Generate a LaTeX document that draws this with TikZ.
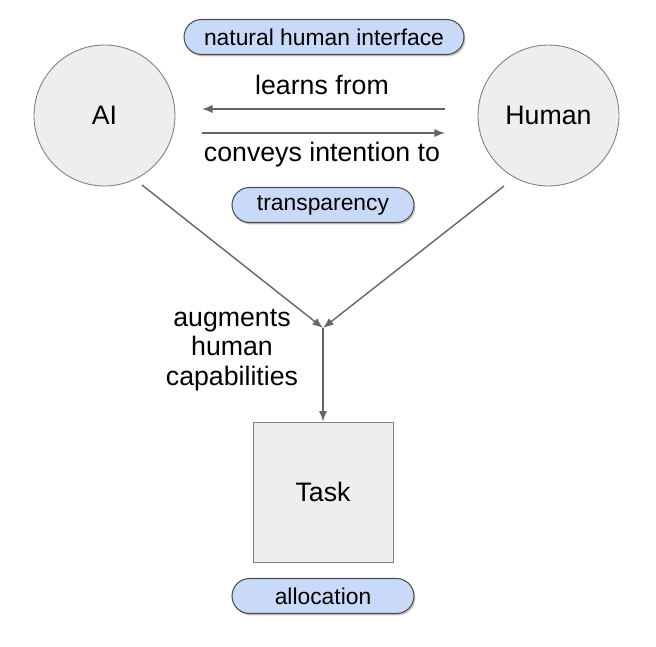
\documentclass[tikz,border=0pt]{standalone}
\usepackage{fontspec}
\setmainfont{Liberation Sans}
\usetikzlibrary{shadows,arrows.meta}
\definecolor{pillblue}{HTML}{C9DAF8}
\definecolor{boxgray}{HTML}{EEEEEE}
\definecolor{edgegray}{HTML}{808080}
\definecolor{arrowgray}{HTML}{666666}
\begin{document}
\begin{tikzpicture}[x=0.02cm, y=-0.02cm, font=\fontsize{15.2}{17}\selectfont,
		agent/.style={circle, draw=edgegray, fill=boxgray, line width=0.5pt, minimum size=2.82cm, inner sep=0pt},
		pill/.style={draw=black!70, fill=pillblue, line width=0.6pt, rounded corners=0.35cm, minimum height=0.7cm, inner sep=0pt, font=\fontsize{13}{15}\selectfont, drop shadow={shadow xshift=0.8pt, shadow yshift=-1.1pt, opacity=0.45}},
		link/.style={draw=arrowgray, line width=0.8pt, -{Latex[length=6pt, width=4.6pt]}}]
		\useasboundingbox (0,0) rectangle (656,646);
		\node[agent] (ai) at (104.5,115.5) {AI};
		\node[agent] (human) at (548.5,115.5) {Human};
		\node[pill, minimum width=5.6cm] (interface) at (324,37) {natural human interface};
		\node (learns) at (322,85) {learns from};
		\node (conveys) at (322,155) {conveys intention to};
		\node[pill, minimum width=3.64cm] (transp) at (323,205) {transparency};
		% horizontal arrows between the agents
		\coordinate (lr) at (445,109);
		\coordinate (ll) at (202,109);
		\coordinate (cl) at (202,133);
		\coordinate (cr) at (445,133);
		\draw[link] (lr) -- (ll);
		\draw[link] (cl) -- (cr);
		% lines down to the task
		\coordinate (aiout) at (142,185);
		\coordinate (humanout) at (504,186);
		\coordinate (merge) at (323,328);
		\draw[link] (aiout) -- (merge);
		\draw[link] (humanout) -- (merge);
		\node[align=center] (augments) at (232,350) {augments\\human\\capabilities};
		\node[draw=edgegray, fill=boxgray, line width=0.5pt, minimum size=2.8cm] (task) at (323,492) {Task};
		\draw[link] (merge) -- (task.north);
		\node[pill, minimum width=3.64cm] (alloc) at (323,596) {allocation};
	\end{tikzpicture}
\end{document}
